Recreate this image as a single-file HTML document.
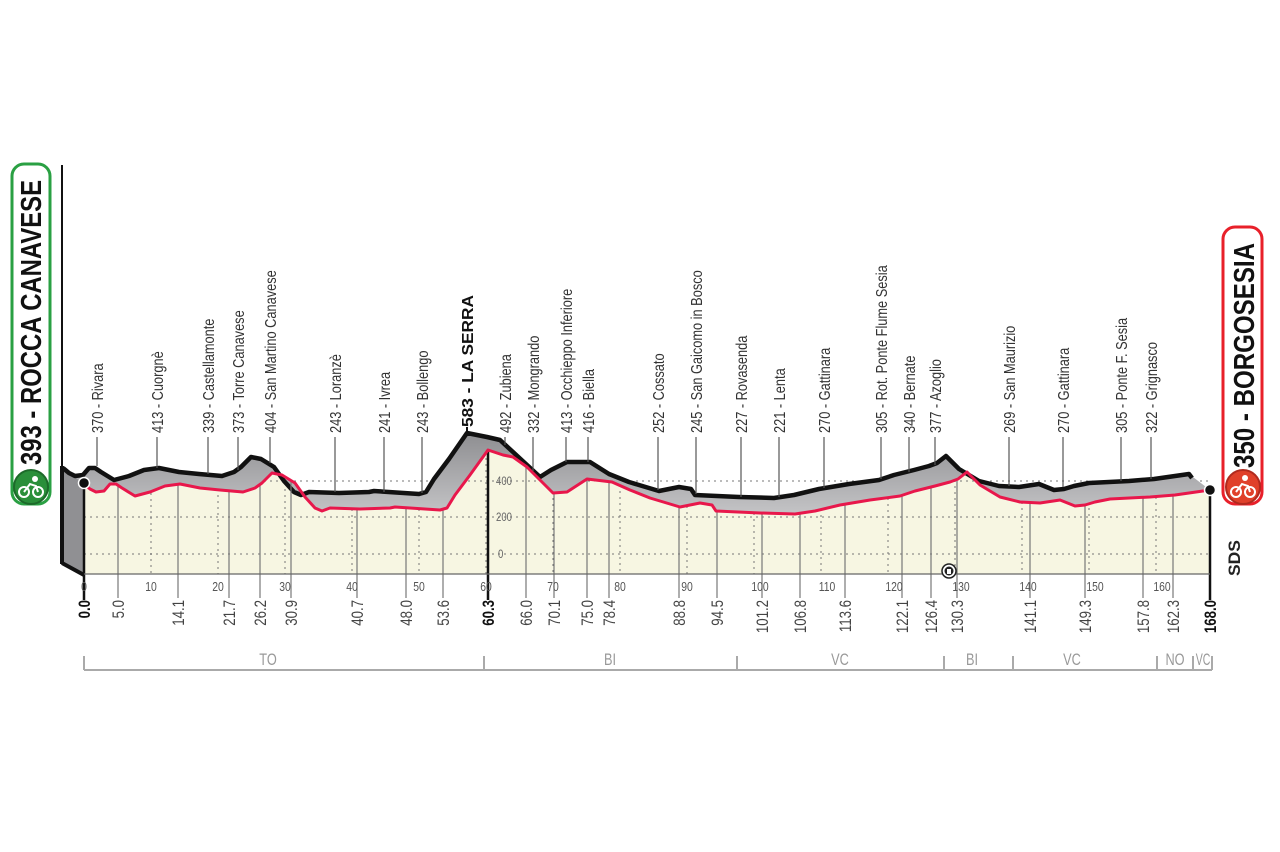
<!DOCTYPE html>
<html><head><meta charset="utf-8"><style>
html,body{margin:0;padding:0;background:#fff;}
svg{display:block;}
text{font-family:"Liberation Sans Narrow","Liberation Sans",sans-serif;}
</style></head><body>
<svg width="1280" height="852" viewBox="0 0 1280 852" xmlns="http://www.w3.org/2000/svg">
<defs>
<linearGradient id="gb" x1="0" y1="0" x2="0" y2="1"><stop offset="0" stop-color="#8e8e91"/><stop offset="1" stop-color="#c4c4c6"/></linearGradient>
</defs>
<line x1="62" y1="165" x2="62" y2="468" stroke="#111" stroke-width="2"/>

<polygon fill="#f7f6e2" points="84,484 90,489 96,492 104,491 110,484 116,484 122,488 135,496 150,492 165,486 180,484 200,488 220,490 243,492 255,488 262,483 272,473 282,475 295,483 305,497 315,508 322,511 330,508 360,509 390,508 395,507 440,510 447,508 455,495 470,475 488,450 503,455 513,457 527,467 540,480 553,493 567,492 587,479 612,482 630,490 650,498 680,507 700,503 712,505 716,511 760,513 795,514 815,511 840,505 870,500 900,496 915,491 935,486 950,482 958,479 967,472 980,485 1000,497 1020,502 1040,503 1060,500 1075,506 1085,505 1095,502 1110,499 1150,497 1175,495 1210,490 1210,574 84,574"/>

<g stroke="#777" stroke-width="1" stroke-dasharray="2,4">
<line x1="84" y1="481" x2="1210" y2="481"/><line x1="84" y1="517" x2="1210" y2="517"/><line x1="84" y1="554" x2="1210" y2="554"/>
<line x1="151" y1="493" x2="151" y2="574"/><line x1="218" y1="489" x2="218" y2="574"/><line x1="285" y1="477" x2="285" y2="574"/><line x1="352" y1="509" x2="352" y2="574"/><line x1="419" y1="509" x2="419" y2="574"/><line x1="486" y1="452" x2="486" y2="574"/><line x1="553" y1="492" x2="553" y2="574"/><line x1="620" y1="485" x2="620" y2="574"/><line x1="687" y1="506" x2="687" y2="574"/><line x1="754" y1="513" x2="754" y2="574"/><line x1="821" y1="509" x2="821" y2="574"/><line x1="888" y1="498" x2="888" y2="574"/><line x1="955" y1="480" x2="955" y2="574"/><line x1="1022" y1="502" x2="1022" y2="574"/><line x1="1089" y1="502" x2="1089" y2="574"/><line x1="1156" y1="497" x2="1156" y2="574"/>
</g>
<g font-size="12" fill="#666"><text transform="translate(496,485) scale(0.8,1)">400</text><text transform="translate(496,521) scale(0.8,1)">200</text><text transform="translate(498,558) scale(0.8,1)">0</text></g>

<polygon fill="url(#gb)" points="63,468 69,473 75,476 83,475 89,468 95,468 101,472 114,480 129,476 144,470 159,468 179,472 199,474 222,476 234,472 241,467 251,457 261,459 274,467 284,481 294,492 301,495 309,492 339,493 369,492 374,491 419,494 426,492 434,479 449,459 467,433 487,437 500,440 513,452 540,477 551,470 567,462 590,462 609,474 629,482 659,491 679,487 691,489 695,495 739,497 774,498 794,495 819,489 849,484 879,480 894,475 914,470 929,466 937,463 946,456 959,469 979,481 999,486 1019,487 1039,484 1054,490 1064,489 1074,486 1089,483 1129,481 1154,479 1189,474 1210,490 1175,495 1150,497 1110,499 1095,502 1085,505 1075,506 1060,500 1040,503 1020,502 1000,497 980,485 967,472 958,479 950,482 935,486 915,491 900,496 870,500 840,505 815,511 795,514 760,513 716,511 712,505 700,503 680,507 650,498 630,490 612,482 587,479 567,492 553,493 540,480 527,467 513,457 503,455 488,450 470,475 455,495 447,508 440,510 395,507 390,508 360,509 330,508 322,511 315,508 305,497 295,483 282,475 272,473 262,483 255,488 243,492 220,490 200,488 180,484 165,486 150,492 135,496 122,488 116,484 110,484 104,491 96,492 90,489 84,484"/>
<polygon fill="#909093" points="62,467 84,484 84,575 62,563"/>
<polyline fill="none" stroke="#111" stroke-width="4" stroke-linejoin="round" points="62,563 84,575"/>
<line x1="62" y1="466" x2="62" y2="564" stroke="#111" stroke-width="4"/>
<polyline fill="none" stroke="#111" stroke-width="4.5" stroke-linejoin="round" points="63,468 69,473 75,476 83,475 89,468 95,468 101,472 114,480 129,476 144,470 159,468 179,472 199,474 222,476 234,472 241,467 251,457 261,459 274,467 284,481 294,492 301,495 309,492 339,493 369,492 374,491 419,494 426,492 434,479 449,459 467,433 487,437 500,440 513,452 540,477 551,470 567,462 590,462 609,474 629,482 659,491 679,487 691,489 695,495 739,497 774,498 794,495 819,489 849,484 879,480 894,475 914,470 929,466 937,463 946,456 959,469 979,481 999,486 1019,487 1039,484 1054,490 1064,489 1074,486 1089,483 1129,481 1154,479 1189,474 1192,478"/>

<g stroke="#777" stroke-width="1.2">
<line x1="118" y1="486" x2="118" y2="598"/><line x1="178" y1="484" x2="178" y2="598"/><line x1="229" y1="490" x2="229" y2="598"/><line x1="260" y1="485" x2="260" y2="598"/><line x1="291" y1="481" x2="291" y2="598"/><line x1="357" y1="509" x2="357" y2="598"/><line x1="406" y1="508" x2="406" y2="598"/><line x1="443" y1="510" x2="443" y2="598"/><line x1="526" y1="466" x2="526" y2="598"/><line x1="554" y1="493" x2="554" y2="598"/><line x1="587" y1="479" x2="587" y2="598"/><line x1="609" y1="482" x2="609" y2="598"/><line x1="679" y1="507" x2="679" y2="598"/><line x1="717" y1="511" x2="717" y2="598"/><line x1="762" y1="513" x2="762" y2="598"/><line x1="800" y1="514" x2="800" y2="598"/><line x1="845" y1="504" x2="845" y2="598"/><line x1="902" y1="496" x2="902" y2="598"/><line x1="931" y1="486" x2="931" y2="598"/><line x1="957" y1="479" x2="957" y2="598"/><line x1="1030" y1="502" x2="1030" y2="598"/><line x1="1085" y1="505" x2="1085" y2="598"/><line x1="1143" y1="497" x2="1143" y2="598"/><line x1="1173" y1="495" x2="1173" y2="598"/>
</g>
<line x1="488" y1="450" x2="488" y2="600" stroke="#111" stroke-width="2.5"/>
<line x1="84" y1="484" x2="84" y2="600" stroke="#111" stroke-width="2.5"/>
<line x1="1210" y1="490" x2="1210" y2="600" stroke="#111" stroke-width="2.5"/>
<line x1="84" y1="574" x2="1210" y2="574" stroke="#666" stroke-width="1.2"/>

<polyline fill="none" stroke="#e8174b" stroke-width="3" stroke-linejoin="round" points="84,484 90,489 96,492 104,491 110,484 116,484 122,488 135,496 150,492 165,486 180,484 200,488 220,490 243,492 255,488 262,483 272,473 282,475 295,483 305,497 315,508 322,511 330,508 360,509 390,508 395,507 440,510 447,508 455,495 470,475 488,450 503,455 513,457 527,467 540,480 553,493 567,492 587,479 612,482 630,490 650,498 680,507 700,503 712,505 716,511 760,513 795,514 815,511 840,505 870,500 900,496 915,491 935,486 950,482 958,479 967,472 980,485 1000,497 1020,502 1040,503 1060,500 1075,506 1085,505 1095,502 1110,499 1150,497 1175,495 1210,490"/>
<circle cx="84" cy="483" r="5.5" fill="#111" stroke="#fff" stroke-width="1.5"/>
<circle cx="1210" cy="490" r="5.5" fill="#111" stroke="#fff" stroke-width="1.5"/>

<circle cx="949" cy="571" r="7" fill="#fff" stroke="#222" stroke-width="1.5"/><circle cx="949" cy="571" r="4.5" fill="#222"/><rect x="947" y="569" width="4" height="5" fill="#fff"/>

<g font-size="13" fill="#555" text-anchor="middle">
<text transform="translate(84,591) scale(0.8,1)">0</text><text transform="translate(151,591) scale(0.8,1)">10</text><text transform="translate(218,591) scale(0.8,1)">20</text><text transform="translate(285,591) scale(0.8,1)">30</text><text transform="translate(352,591) scale(0.8,1)">40</text><text transform="translate(419,591) scale(0.8,1)">50</text><text transform="translate(486,591) scale(0.8,1)">60</text><text transform="translate(553,591) scale(0.8,1)">70</text><text transform="translate(620,591) scale(0.8,1)">80</text><text transform="translate(687,591) scale(0.8,1)">90</text><text transform="translate(760,591) scale(0.8,1)">100</text><text transform="translate(827,591) scale(0.8,1)">110</text><text transform="translate(894,591) scale(0.8,1)">120</text><text transform="translate(961,591) scale(0.8,1)">130</text><text transform="translate(1028,591) scale(0.8,1)">140</text><text transform="translate(1095,591) scale(0.8,1)">150</text><text transform="translate(1162,591) scale(0.8,1)">160</text>
</g>

<g font-size="17" fill="#444" text-anchor="end">
<text transform="translate(124,600) rotate(-90) scale(0.78,1)">5.0</text>
<text transform="translate(184,600) rotate(-90) scale(0.78,1)">14.1</text>
<text transform="translate(235,600) rotate(-90) scale(0.78,1)">21.7</text>
<text transform="translate(266,600) rotate(-90) scale(0.78,1)">26.2</text>
<text transform="translate(297,600) rotate(-90) scale(0.78,1)">30.9</text>
<text transform="translate(363,600) rotate(-90) scale(0.78,1)">40.7</text>
<text transform="translate(412,600) rotate(-90) scale(0.78,1)">48.0</text>
<text transform="translate(449,600) rotate(-90) scale(0.78,1)">53.6</text>
<text transform="translate(532,600) rotate(-90) scale(0.78,1)">66.0</text>
<text transform="translate(560,600) rotate(-90) scale(0.78,1)">70.1</text>
<text transform="translate(593,600) rotate(-90) scale(0.78,1)">75.0</text>
<text transform="translate(615,600) rotate(-90) scale(0.78,1)">78.4</text>
<text transform="translate(685,600) rotate(-90) scale(0.78,1)">88.8</text>
<text transform="translate(723,600) rotate(-90) scale(0.78,1)">94.5</text>
<text transform="translate(768,600) rotate(-90) scale(0.78,1)">101.2</text>
<text transform="translate(806,600) rotate(-90) scale(0.78,1)">106.8</text>
<text transform="translate(851,600) rotate(-90) scale(0.78,1)">113.6</text>
<text transform="translate(908,600) rotate(-90) scale(0.78,1)">122.1</text>
<text transform="translate(937,600) rotate(-90) scale(0.78,1)">126.4</text>
<text transform="translate(963,600) rotate(-90) scale(0.78,1)">130.3</text>
<text transform="translate(1036,600) rotate(-90) scale(0.78,1)">141.1</text>
<text transform="translate(1091,600) rotate(-90) scale(0.78,1)">149.3</text>
<text transform="translate(1149,600) rotate(-90) scale(0.78,1)">157.8</text>
<text transform="translate(1179,600) rotate(-90) scale(0.78,1)">162.3</text>
</g>
<g font-size="17" fill="#111" font-weight="bold" text-anchor="end">
<text transform="translate(90,600) rotate(-90) scale(0.78,1)">0.0</text>
<text transform="translate(494,600) rotate(-90) scale(0.78,1)">60.3</text>
<text transform="translate(1216,600) rotate(-90) scale(0.78,1)">168.0</text>
</g>

<g stroke="#555" stroke-width="1.2">
<line x1="97" y1="437" x2="97" y2="466"/><line x1="157" y1="437" x2="157" y2="468"/><line x1="208" y1="437" x2="208" y2="474"/><line x1="238" y1="437" x2="238" y2="470"/><line x1="270" y1="437" x2="270" y2="463"/><line x1="335" y1="437" x2="335" y2="492"/><line x1="384" y1="437" x2="384" y2="492"/><line x1="422" y1="437" x2="422" y2="493"/><line x1="505" y1="437" x2="505" y2="445"/><line x1="533" y1="437" x2="533" y2="471"/><line x1="566" y1="437" x2="566" y2="462"/><line x1="588" y1="437" x2="588" y2="462"/><line x1="658" y1="437" x2="658" y2="490"/><line x1="696" y1="437" x2="696" y2="494"/><line x1="741" y1="437" x2="741" y2="497"/><line x1="779" y1="437" x2="779" y2="497"/><line x1="824" y1="437" x2="824" y2="488"/><line x1="881" y1="437" x2="881" y2="479"/><line x1="909" y1="437" x2="909" y2="472"/><line x1="935" y1="437" x2="935" y2="465"/><line x1="1009" y1="437" x2="1009" y2="486"/><line x1="1063" y1="437" x2="1063" y2="487"/><line x1="1121" y1="437" x2="1121" y2="481"/><line x1="1151" y1="437" x2="1151" y2="479"/>
</g>
<line x1="467" y1="427" x2="467" y2="434" stroke="#111" stroke-width="2"/>
<g font-size="16" fill="#333">
<text transform="translate(103,433) rotate(-90) scale(0.8,1)">370 - Rivara</text>
<text transform="translate(163,433) rotate(-90) scale(0.8,1)">413 - Cuorgnè</text>
<text transform="translate(214,433) rotate(-90) scale(0.8,1)">339 - Castellamonte</text>
<text transform="translate(244,433) rotate(-90) scale(0.8,1)">373 - Torre Canavese</text>
<text transform="translate(276,433) rotate(-90) scale(0.8,1)">404 - San Martino Canavese</text>
<text transform="translate(341,433) rotate(-90) scale(0.8,1)">243 - Loranzè</text>
<text transform="translate(390,433) rotate(-90) scale(0.8,1)">241 - Ivrea</text>
<text transform="translate(428,433) rotate(-90) scale(0.8,1)">243 - Bollengo</text>
<text transform="translate(511,433) rotate(-90) scale(0.8,1)">492 - Zubiena</text>
<text transform="translate(539,433) rotate(-90) scale(0.8,1)">332 - Mongrando</text>
<text transform="translate(572,433) rotate(-90) scale(0.8,1)">413 - Occhieppo Inferiore</text>
<text transform="translate(594,433) rotate(-90) scale(0.8,1)">416 - Biella</text>
<text transform="translate(664,433) rotate(-90) scale(0.8,1)">252 - Cossato</text>
<text transform="translate(702,433) rotate(-90) scale(0.8,1)">245 - San Gaicomo in Bosco</text>
<text transform="translate(747,433) rotate(-90) scale(0.8,1)">227 - Rovasenda</text>
<text transform="translate(785,433) rotate(-90) scale(0.8,1)">221 - Lenta</text>
<text transform="translate(830,433) rotate(-90) scale(0.8,1)">270 - Gattinara</text>
<text transform="translate(887,433) rotate(-90) scale(0.8,1)">305 - Rot. Ponte Flume Sesia</text>
<text transform="translate(915,433) rotate(-90) scale(0.8,1)">340 - Bernate</text>
<text transform="translate(941,433) rotate(-90) scale(0.8,1)">377 - Azoglio</text>
<text transform="translate(1015,433) rotate(-90) scale(0.8,1)">269 - San Maurizio</text>
<text transform="translate(1069,433) rotate(-90) scale(0.8,1)">270 - Gattinara</text>
<text transform="translate(1127,433) rotate(-90) scale(0.8,1)">305 - Ponte F. Sesia</text>
<text transform="translate(1157,433) rotate(-90) scale(0.8,1)">322 - Grignasco</text>
</g>
<text transform="translate(473,427) rotate(-90)" font-size="16" font-weight="bold" fill="#111" textLength="132" lengthAdjust="spacingAndGlyphs">583 - LA SERRA</text>

<g stroke="#aaa" stroke-width="2" fill="none">
<line x1="84" y1="670" x2="1212" y2="670"/>
<line x1="84" y1="656" x2="84" y2="670"/><line x1="484" y1="656" x2="484" y2="670"/><line x1="737" y1="656" x2="737" y2="670"/><line x1="944" y1="656" x2="944" y2="670"/><line x1="1013" y1="656" x2="1013" y2="670"/><line x1="1157" y1="656" x2="1157" y2="670"/><line x1="1193" y1="656" x2="1193" y2="670"/><line x1="1212" y1="656" x2="1212" y2="670"/>
</g>
<g font-size="17" fill="#999" text-anchor="middle">
<text transform="translate(268,665) scale(0.75,1)">TO</text><text transform="translate(610,665) scale(0.75,1)">BI</text><text transform="translate(840,665) scale(0.75,1)">VC</text><text transform="translate(972,665) scale(0.75,1)">BI</text><text transform="translate(1072,665) scale(0.75,1)">VC</text><text transform="translate(1175,665) scale(0.75,1)">NO</text><text transform="translate(1203,665) scale(0.62,1)">VC</text>
</g>

<rect x="12" y="164" width="38" height="340" rx="12" fill="#fff" stroke="#2aa043" stroke-width="3"/>
<text transform="translate(41,465) rotate(-90)" font-family="Liberation Sans" font-size="29" font-weight="bold" fill="#111" textLength="285" lengthAdjust="spacingAndGlyphs">393 - ROCCA CANAVESE</text>
<circle cx="31" cy="487" r="17" fill="#2a8f3a" stroke="#1d6a2a" stroke-width="2"/>
<circle cx="24" cy="492" r="5" fill="none" stroke="#fff" stroke-width="2"/><circle cx="38" cy="492" r="5" fill="none" stroke="#fff" stroke-width="2"/>
<path d="M24,492 L30,484 L36,486 L38,492" fill="none" stroke="#fff" stroke-width="2"/><circle cx="35" cy="479" r="3" fill="#fff"/>

<rect x="1223" y="227" width="39" height="277" rx="12" fill="#fff" stroke="#e8202a" stroke-width="3"/>
<text transform="translate(1254,468) rotate(-90)" font-family="Liberation Sans" font-size="29" font-weight="bold" fill="#111" textLength="225" lengthAdjust="spacingAndGlyphs">350 - BORGOSESIA</text>
<circle cx="1243" cy="487" r="17" fill="#e0402a" stroke="#b02a1e" stroke-width="2"/>
<circle cx="1236" cy="492" r="5" fill="none" stroke="#fff" stroke-width="2"/><circle cx="1250" cy="492" r="5" fill="none" stroke="#fff" stroke-width="2"/>
<path d="M1236,492 L1242,484 L1248,486 L1250,492" fill="none" stroke="#fff" stroke-width="2"/><circle cx="1245" cy="478" r="3" fill="#fff"/>

<text transform="translate(1240,576) rotate(-90)" font-family="Liberation Sans" font-size="17" font-weight="bold" fill="#222" textLength="36" lengthAdjust="spacingAndGlyphs">SDS</text>
</svg>
</body></html>
